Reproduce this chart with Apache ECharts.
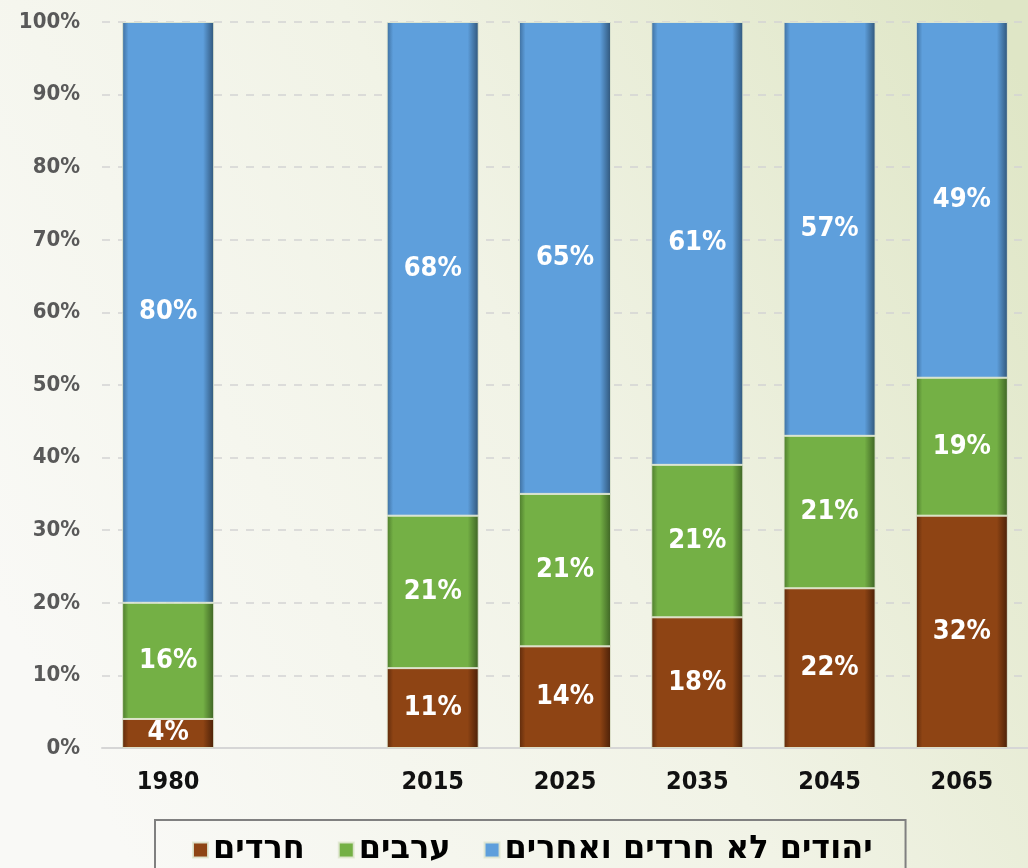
<!DOCTYPE html>
<html>
<head>
<meta charset="utf-8">
<script src="https://cdn.jsdelivr.net/npm/echarts@6/dist/echarts.min.js"></script>
<style>
  html, body { margin: 0; padding: 0; }
  #chart { width: 1028px; height: 868px; }
</style>
</head>
<body>
<div id="chart"></div>
<script>
// data
var years = ['1980', '', '2015', '2025', '2035', '2045', '2065']
var haredim = [4, '-', 11, 14, 18, 22, 32]
var arabs = [16, '-', 21, 21, 21, 21, 19]
var jewsOther = [80, '-', 68, 65, 61, 57, 49]
var seriesNames = ['חרדים', 'ערבים', 'יהודים לא חרדים ואחרים']

var numFont = '"DejaVu Sans Condensed", "DejaVu Sans", sans-serif'

function barFill(edgeL, main, edgeR) {
  return {
    type: 'linear', x: 0, y: 0, x2: 1, y2: 0,
    colorStops: [
      { offset: 0, color: edgeL },
      { offset: 0.07, color: main },
      { offset: 0.88, color: main },
      { offset: 1, color: edgeR }
    ]
  }
}

function makeSeries(name, data, fill) {
  return {
    name: name,
    type: 'bar',
    stack: 'total',
    barWidth: 92,
    data: data,
    itemStyle: {
      color: fill,
      borderColor: 'rgba(225,232,210,0.9)',
      borderWidth: 1
    },
    label: {
      show: true,
      position: 'inside',
      formatter: '{c}%',
      color: '#ffffff',
      fontFamily: numFont,
      fontWeight: 'bold',
      fontSize: 27
    },
    emphasis: { disabled: true },
    animation: false
  }
}

var chart = echarts.init(document.getElementById('chart'))
chart.setOption({
  backgroundColor: {
    type: 'linear', x: 0, y: 0.7, x2: 1, y2: 0.1,
    colorStops: [
      { offset: 0, color: '#f9f9f6' },
      { offset: 0.5, color: '#f1f3e6' },
      { offset: 1, color: '#dfe6c6' }
    ]
  },
  grid: {
    left: 102,
    right: -8,
    top: 22,
    bottom: 120
  },
  legend: {
    data: seriesNames,
    icon: 'rect',
    left: 155,
    top: 820,
    padding: [14, 33, 40, 37],
    itemGap: 33,
    itemWidth: 15,
    itemHeight: 15,
    borderColor: '#808080',
    borderWidth: 2,
    textStyle: {
      color: '#000',
      fontFamily: '"DejaVu Sans", sans-serif',
      fontWeight: 'bold',
      fontSize: 32
    }
  },
  xAxis: {
    type: 'category',
    data: years,
    axisTick: { show: false },
    axisLine: { lineStyle: { color: '#d6d6d6', width: 2 } },
    axisLabel: {
      color: '#111',
      fontFamily: numFont,
      fontWeight: 'bold',
      fontSize: 25,
      margin: 22
    }
  },
  yAxis: {
    type: 'value',
    min: 0,
    max: 100,
    interval: 10,
    axisLine: { show: false },
    axisTick: { show: false },
    splitLine: { lineStyle: { color: '#d4d4d4', type: [8, 8], width: 1.5 } },
    axisLabel: {
      formatter: '{value}%',
      color: '#595959',
      fontFamily: numFont,
      fontWeight: 'bold',
      fontSize: 22,
      margin: 22
    }
  },
  series: [
    makeSeries(seriesNames[0], haredim, barFill('#5e2a0c', '#8e4414', '#4a2008')),
    makeSeries(seriesNames[1], arabs, barFill('#4c7a2c', '#74b045', '#3d6224')),
    makeSeries(seriesNames[2], jewsOther, barFill('#3d6d9c', '#5e9fdc', '#2f5478'))
  ]
})
</script>
</body>
</html>
